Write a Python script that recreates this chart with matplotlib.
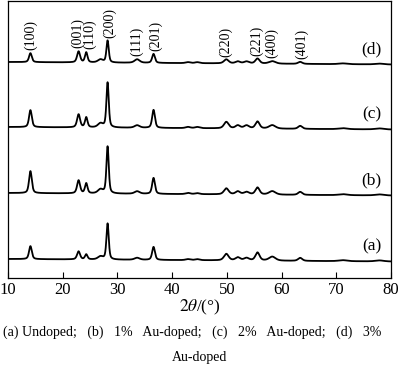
import numpy as np
import matplotlib
matplotlib.use("Agg")
import matplotlib.pyplot as plt

plt.rcParams['font.family'] = ['Liberation Serif', 'DejaVu Serif']
plt.rcParams['mathtext.fontset'] = 'stix'

# peak table (2theta, width in degrees)
peak_pos = [14.1, 22.9, 24.3, 26.9, 28.2, 33.6, 36.6, 42.9, 44.6,
            49.9, 52.0, 53.6, 55.6, 58.3, 63.4, 71.2, 77.9]
peak_width = [0.6, 0.65, 0.55, 1.1, 0.5, 1.1, 0.6, 1.0, 1.0,
              1.0, 1.0, 1.1, 0.9, 1.4, 0.9, 1.8, 1.8]

# peak heights per sample (arbitrary units)
height_a = [13, 8, 5, 3, 36, 2, 13, 1, 1, 6.5, 3, 2.5, 8, 4, 3, 1, 1]
height_b = [22, 13, 10, 4, 47, 2.5, 16, 1.2, 1, 6, 3, 2.5, 7, 3.5, 3, 1, 1]
height_c = [17, 13, 10, 4, 45, 2.5, 18, 1.2, 1.2, 6.5, 3, 3, 7, 3.5, 3, 1, 1]
height_d = [9, 11, 10, 3, 22, 3.5, 9, 1, 1, 4, 2, 2, 5, 2.5, 2, 0.8, 0.8]

offsets = [19, 85, 151, 216]
samples = ["(a)", "(b)", "(c)", "(d)"]

hkl = ["(100)", "(001)", "(110)", "(200)", "(111)", "(201)",
       "(220)", "(221)", "(400)", "(401)"]
hkl_x = [14.1, 22.8, 25.0, 28.5, 33.5, 36.9, 49.8, 55.5, 58.2, 63.7]

caption1 = "(a) Undoped;   (b)   1%   Au-doped;   (c)   2%   Au-doped;   (d)   3%"
caption2 = "Au-doped"


def pattern(x, heights):
    y = np.zeros_like(x)
    for p, w, h in zip(peak_pos, peak_width, heights):
        g = (w / 2) ** 2
        lor = g / ((x - p) ** 2 + g)
        gau = np.exp(-np.log(2) * ((x - p) / (w / 2)) ** 2)
        y += h * (0.5 * lor + 0.5 * gau)
    return y


x = np.arange(10, 80.001, 0.02)
drift = -2.5 * (x - 10) / 70

fig = plt.figure(figsize=(4, 3.83), dpi=100)
ax = fig.add_axes([8 / 400, 1 - 278 / 383, 383 / 400, 277 / 383])

curves = []
for heights, off, lab in zip([height_a, height_b, height_c, height_d], offsets, samples):
    y = pattern(x, heights) + off + drift
    curves.append(y)
    ax.plot(x, y, color='black', lw=1.3)
    ax.text(78.3, off + 5, lab, ha='right', va='bottom', fontsize=12.5)

yd = curves[-1]
for lab, hx in zip(hkl, hkl_x):
    m = (x > hx - 0.8) & (x < hx + 0.8)
    ax.annotate(lab, (hx, yd[m].max()), xytext=(0, 2), textcoords='offset points',
                rotation=90, ha='center', va='bottom', fontsize=10)

ax.set_xlim(10, 80)
ax.set_ylim(0, 277)
ax.set_xticks(range(10, 81, 10))
ax.set_yticks([])
ax.tick_params(axis='x', direction='in', length=4, labelsize=12, pad=3)
for s in ax.spines.values():
    s.set_linewidth(0.9)
ax.set_xlabel(r'$2\theta$/(°)', fontsize=12.5, labelpad=0)

fig.text(3 / 400, 1 - 332 / 383, caption1, ha='left', va='center', fontsize=10)
fig.text(0.5, 1 - 358 / 383, caption2, ha='center', va='center', fontsize=10)

fig.savefig("out.png", dpi=100)
